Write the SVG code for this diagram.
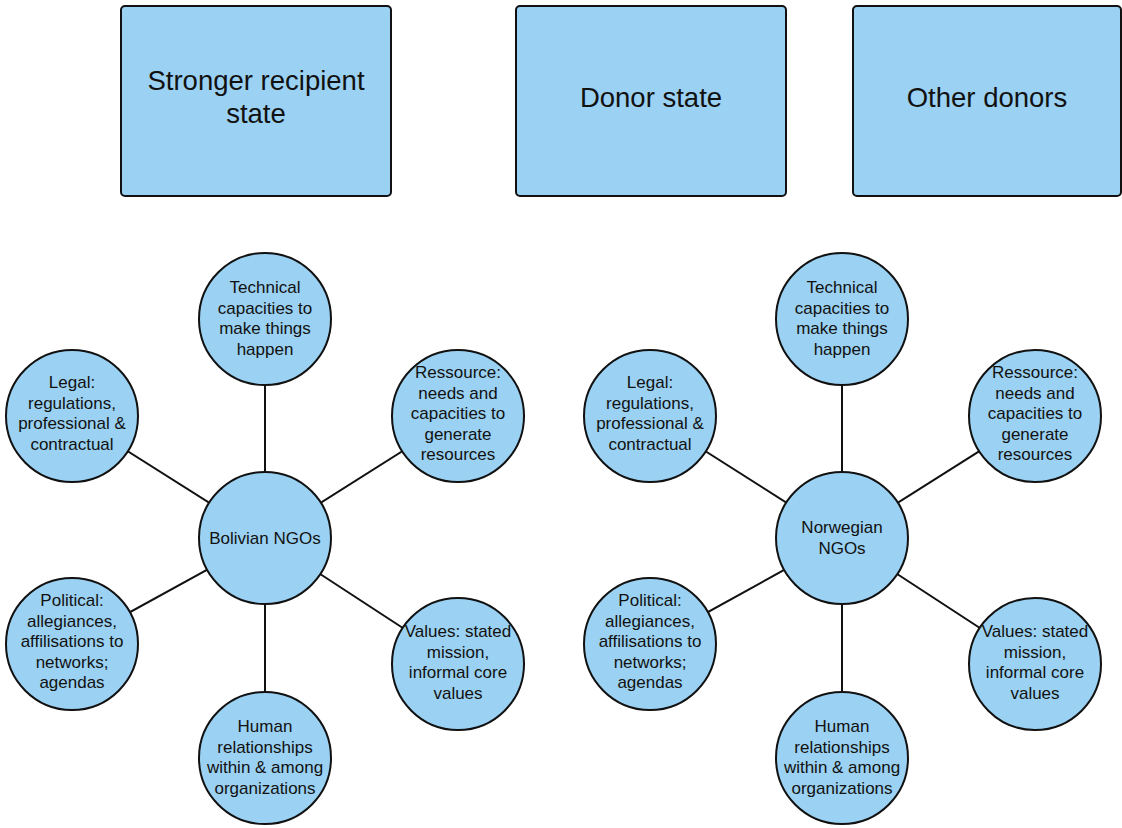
<svg xmlns="http://www.w3.org/2000/svg" width="1122" height="828" viewBox="0 0 1122 828">
<style>
.box{fill:#9bd1f2;stroke:#111;stroke-width:2}
.c{fill:#9bd1f2;stroke:#111;stroke-width:2}
.e{stroke:#111;stroke-width:2}
.bt{font-family:"Liberation Sans",Arial,sans-serif;font-size:27.5px;fill:#111;text-anchor:middle}
.t{font-family:"Liberation Sans",Arial,sans-serif;font-size:17px;fill:#111;text-anchor:middle}
</style>
<rect width="1122" height="828" fill="#fff"/>
<g id="box-recipient"><rect class="box" x="121" y="6" width="270" height="190" rx="4"/><text class="bt" x="256" y="90">Stronger recipient</text><text class="bt" x="256" y="123">state</text></g>
<g id="box-donor"><rect class="box" x="516" y="6" width="270" height="190" rx="4"/><text class="bt" x="651" y="107">Donor state</text></g>
<g id="box-other"><rect class="box" x="853" y="6" width="268" height="190" rx="4"/><text class="bt" x="987" y="107">Other donors</text></g>
<g id="connectors">
<line class="e" x1="265" y1="538" x2="265" y2="319"/>
<line class="e" x1="265" y1="538" x2="72" y2="416"/>
<line class="e" x1="265" y1="538" x2="458" y2="416"/>
<line class="e" x1="265" y1="538" x2="72" y2="644"/>
<line class="e" x1="265" y1="538" x2="458" y2="664"/>
<line class="e" x1="265" y1="538" x2="265" y2="758"/>
<line class="e" x1="842" y1="538" x2="842" y2="319"/>
<line class="e" x1="842" y1="538" x2="650" y2="416"/>
<line class="e" x1="842" y1="538" x2="1035" y2="416"/>
<line class="e" x1="842" y1="538" x2="650" y2="644"/>
<line class="e" x1="842" y1="538" x2="1035" y2="664"/>
<line class="e" x1="842" y1="538" x2="842" y2="758"/>
</g>
<g id="bol-hub"><circle class="c" cx="265" cy="538" r="66"/><text class="t" x="265" y="544">Bolivian NGOs</text></g>
<g id="bol-technical"><circle class="c" cx="265" cy="319" r="66"/><text class="t" x="265" y="293">Technical</text><text class="t" x="265" y="313.5">capacities to</text><text class="t" x="265" y="334">make things</text><text class="t" x="265" y="354.5">happen</text></g>
<g id="bol-legal"><circle class="c" cx="72" cy="416" r="66"/><text class="t" x="72" y="388">Legal:</text><text class="t" x="72" y="408.5">regulations,</text><text class="t" x="72" y="429">professional &amp;</text><text class="t" x="72" y="449.5">contractual</text></g>
<g id="bol-resource"><circle class="c" cx="458" cy="416" r="66"/><text class="t" x="458" y="378">Ressource:</text><text class="t" x="458" y="398.5">needs and</text><text class="t" x="458" y="419">capacities to</text><text class="t" x="458" y="439.5">generate</text><text class="t" x="458" y="460">resources</text></g>
<g id="bol-political"><circle class="c" cx="72" cy="644" r="66"/><text class="t" x="72" y="606">Political:</text><text class="t" x="72" y="626.5">allegiances,</text><text class="t" x="72" y="647">affilisations to</text><text class="t" x="72" y="667.5">networks;</text><text class="t" x="72" y="688">agendas</text></g>
<g id="bol-values"><circle class="c" cx="458" cy="664" r="66"/><text class="t" x="458" y="637">Values: stated</text><text class="t" x="458" y="657.5">mission,</text><text class="t" x="458" y="678">informal core</text><text class="t" x="458" y="698.5">values</text></g>
<g id="bol-human"><circle class="c" cx="265" cy="758" r="66"/><text class="t" x="265" y="732">Human</text><text class="t" x="265" y="752.5">relationships</text><text class="t" x="265" y="773">within &amp; among</text><text class="t" x="265" y="793.5">organizations</text></g>
<g id="nor-hub"><circle class="c" cx="842" cy="538" r="66"/><text class="t" x="842" y="533">Norwegian</text><text class="t" x="842" y="553.5">NGOs</text></g>
<g id="nor-technical"><circle class="c" cx="842" cy="319" r="66"/><text class="t" x="842" y="293">Technical</text><text class="t" x="842" y="313.5">capacities to</text><text class="t" x="842" y="334">make things</text><text class="t" x="842" y="354.5">happen</text></g>
<g id="nor-legal"><circle class="c" cx="650" cy="416" r="66"/><text class="t" x="650" y="388">Legal:</text><text class="t" x="650" y="408.5">regulations,</text><text class="t" x="650" y="429">professional &amp;</text><text class="t" x="650" y="449.5">contractual</text></g>
<g id="nor-resource"><circle class="c" cx="1035" cy="416" r="66"/><text class="t" x="1035" y="378">Ressource:</text><text class="t" x="1035" y="398.5">needs and</text><text class="t" x="1035" y="419">capacities to</text><text class="t" x="1035" y="439.5">generate</text><text class="t" x="1035" y="460">resources</text></g>
<g id="nor-political"><circle class="c" cx="650" cy="644" r="66"/><text class="t" x="650" y="606">Political:</text><text class="t" x="650" y="626.5">allegiances,</text><text class="t" x="650" y="647">affilisations to</text><text class="t" x="650" y="667.5">networks;</text><text class="t" x="650" y="688">agendas</text></g>
<g id="nor-values"><circle class="c" cx="1035" cy="664" r="66"/><text class="t" x="1035" y="637">Values: stated</text><text class="t" x="1035" y="657.5">mission,</text><text class="t" x="1035" y="678">informal core</text><text class="t" x="1035" y="698.5">values</text></g>
<g id="nor-human"><circle class="c" cx="842" cy="758" r="66"/><text class="t" x="842" y="732">Human</text><text class="t" x="842" y="752.5">relationships</text><text class="t" x="842" y="773">within &amp; among</text><text class="t" x="842" y="793.5">organizations</text></g>
</svg>
